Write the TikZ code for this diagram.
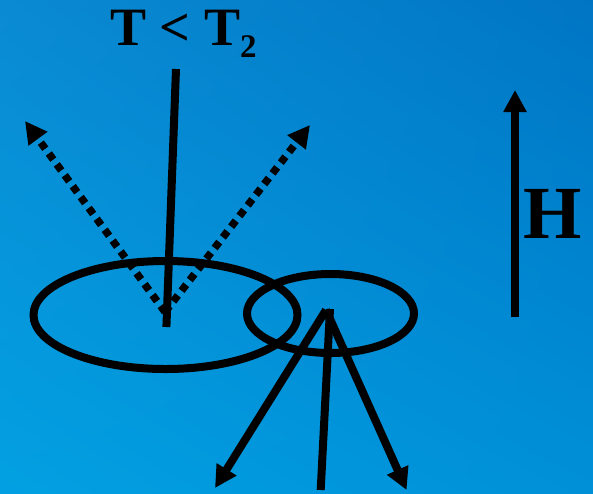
\documentclass[tikz,border=0pt]{standalone}
\usepackage{fontspec}
\setmainfont{Liberation Serif}
\usetikzlibrary{arrows.meta,shapes.geometric,shadings}
\definecolor{bgTL}{RGB}{10,138,210}
\definecolor{bgTR}{RGB}{0,117,196}
\definecolor{bgBL}{RGB}{2,160,226}
\definecolor{bgBR}{RGB}{0,144,216}
\tikzset{
  ring/.style={draw=black,line width=8pt,ellipse,inner sep=0pt},
  solidline/.style={draw=black,line width=8pt},
  dotline/.style={draw=black,line width=7.5pt,dash pattern=on 7.5pt off 6pt},
  tip/.style={-{Triangle[length=22pt,width=22pt]}},
  lbl/.style={inner sep=0pt,font=\bfseries}
}
\begin{document}
\begin{tikzpicture}
\shade[upper left=bgTL,upper right=bgTR,lower left=bgBL,lower right=bgBR] (0pt,0pt) rectangle (593pt,-493pt);
\useasboundingbox (0pt,0pt) rectangle (593pt,-493pt);
\begin{scope}[x=1pt,y=-1pt]
  \node[ring,minimum width=264pt,minimum height=108pt] (big) at (165.5,315) {};
  \node[ring,minimum width=167pt,minimum height=79pt] (small) at (330.5,313.5) {};
  % incident beam
  \coordinate (inTop) at (176,69);
  \coordinate (inBot) at (166.4,327);
  \draw[solidline] (inTop) -- (inBot);
  % reflected dotted beams
  \coordinate (v1) at (165,312);
  \coordinate (d1) at (25,121);
  \coordinate (d2) at (310,125);
  \draw[dotline,tip] (v1) -- (d1);
  \draw[dotline,tip] (v1) -- (d2);
  % transmitted beams
  \coordinate (v2) at (326,310);
  \coordinate (m1) at (330,309);
  \coordinate (b1) at (215,488);
  \coordinate (b2) at (320.7,490);
  \coordinate (b3) at (406.6,490);
  \draw[solidline,tip] (v2) -- (b1);
  \draw[solidline] (m1) -- (b2);
  \draw[solidline,tip] (v2) -- (b3);
  % field H
  \coordinate (hBot) at (515,317);
  \coordinate (hTop) at (515,90);
  \draw[solidline,tip] (hBot) -- (hTop);
  \node[lbl,anchor=base west,font=\bfseries\fontsize{75}{75}\selectfont] (H) at (523,238) {H};
  \node[lbl,anchor=base west,font=\bfseries\fontsize{54}{54}\selectfont] (title) at (110,45) {T < T\raisebox{-12pt}{\fontsize{33}{33}\selectfont 2}};
\end{scope}
\end{tikzpicture}
\end{document}
